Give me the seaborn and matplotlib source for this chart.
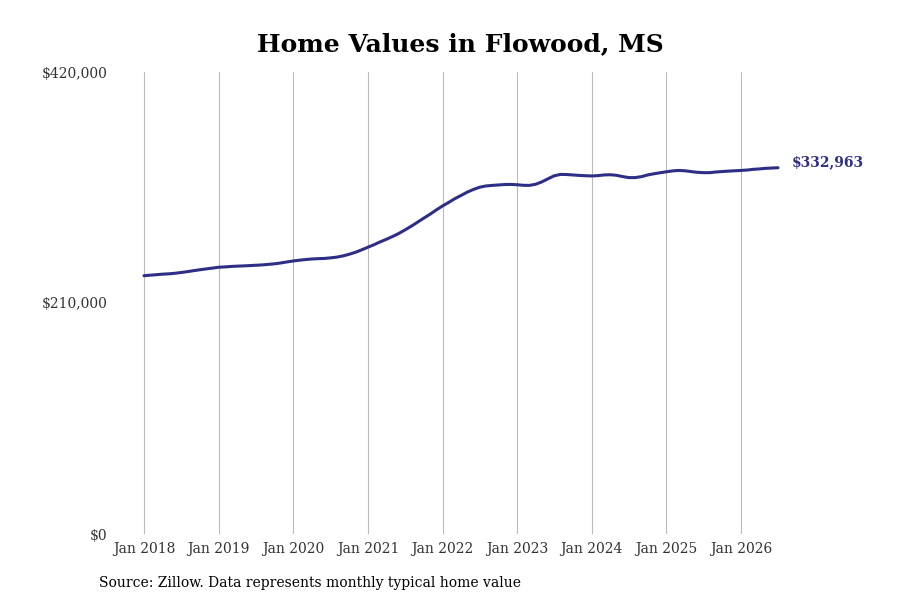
import pandas as pd
import matplotlib.pyplot as plt
import matplotlib.dates as mdates
import seaborn as sns

# Valores mensais estimados (Jan 2018 - Jul 2026)
inicio = '2018-01-01'
valores = [
    234800, 235300, 235700, 236200, 236500, 237000, 237700, 238500, 239400, 240200, 241000, 241700,
    242500, 242800, 243200, 243500, 243700, 244000, 244300, 244600, 245100, 245600, 246400, 247300,
    248200, 248900, 249500, 250000, 250300, 250500, 251000, 251700, 252800, 254300, 256100, 258300,
    260700, 263100, 265500, 267900, 270400, 273200, 276400, 279800, 283500, 287100, 290700, 294500,
    298200, 301500, 304700, 307700, 310700, 313200, 315200, 316400, 316900, 317300, 317700, 317800,
    317500, 317000, 316900, 317900, 320000, 322900, 325600, 326900, 326800, 326400, 326000, 325700,
    325500, 325800, 326400, 326600, 326100, 324900, 324000, 324000, 324900, 326400, 327500, 328400,
    329300, 330100, 330500, 330200, 329500, 328800, 328500, 328500, 329100, 329500, 329900, 330200,
    330500, 330900, 331500, 331900, 332400, 332700, 332963,
]
yticks = [0, 210000, 420000]
anos = list(range(2018, 2027))

df = pd.DataFrame({'Data': pd.date_range(inicio, periods=len(valores), freq='MS'),
                   'Valor': valores})

sns.set_style('white')
plt.rcParams['font.family'] = ['DejaVu Serif']

cor = '#2e2e87'
fig = plt.figure(figsize=(9, 6), dpi=100)
ax = fig.add_axes([0.125, 0.11, 0.764, 0.77])

sns.lineplot(x='Data', y='Valor', data=df, color=cor, linewidth=2.2, ax=ax)

ax.set_ylim(0, 420000)
ax.set_xlim(pd.Timestamp('2017-07-31'), pd.Timestamp('2026-10-17'))
ax.set_yticks(yticks)
ax.set_yticklabels([f'${v:,.0f}' for v in yticks])
ax.set_xticks([pd.Timestamp(f'{a}-01-01') for a in anos])
ax.xaxis.set_major_formatter(mdates.DateFormatter('Jan %Y'))
ax.tick_params(axis='both', length=0, labelsize=10, colors='#333333')
ax.tick_params(axis='x', pad=6)
ax.set_xlabel('')
ax.set_ylabel('')
ax.grid(axis='x', color='#bbbbbb', linewidth=0.8)
ax.grid(axis='y', visible=False)
for s in ax.spines.values():
    s.set_visible(False)

ax.annotate(f'${valores[-1]:,.0f}', xy=(df['Data'].iloc[-1], valores[-1]),
            xytext=(14, 6), textcoords='offset pixels', va='center', ha='left',
            fontsize=10, fontweight='bold', color=cor)

fig.text(0.512, 0.927, 'Home Values in Flowood, MS', fontsize=18, fontweight='bold',
         color='black', ha='center', va='center')
fig.text(0.11, 0.029, 'Source: Zillow. Data represents monthly typical home value',
         fontsize=10, ha='left', va='center', color='black')

fig.savefig('out.png', dpi=100)
